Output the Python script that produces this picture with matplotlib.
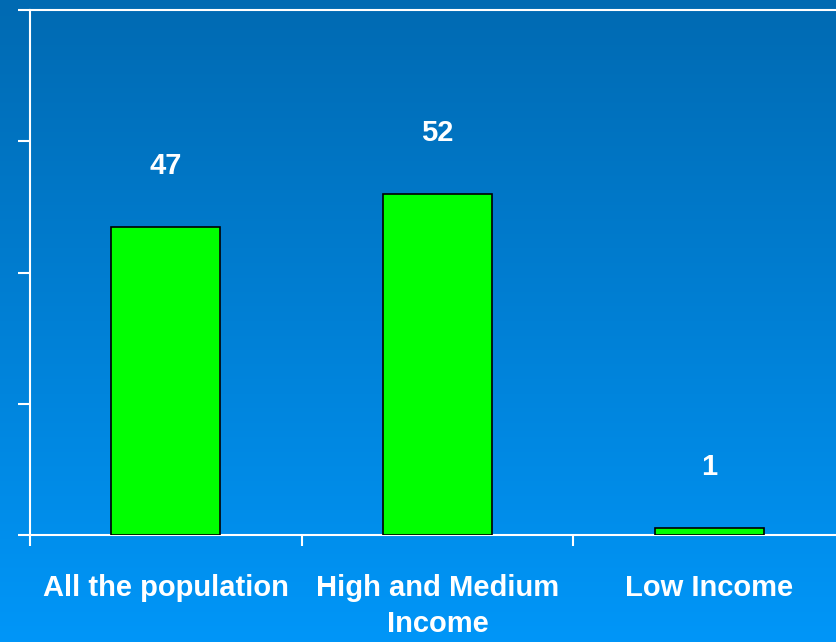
import matplotlib.pyplot as plt
import numpy as np
from matplotlib.colors import LinearSegmentedColormap

categories = ['All the population', 'High and Medium\nIncome', 'Low Income']
values = [47, 52, 1]

plt.rcParams['font.family'] = ['Liberation Sans', 'DejaVu Sans']

fig = plt.figure(figsize=(8.37, 6.42), dpi=100)

# blue gradient background
bg = fig.add_axes([0, 0, 1, 1], zorder=0)
cmap = LinearSegmentedColormap.from_list('bg', ['#006AB2', '#0096F8'])
grad = np.linspace(0, 1, 256).reshape(-1, 1)
bg.imshow(grad, aspect='auto', cmap=cmap, extent=[0, 1, 0, 1], origin='upper')
bg.set_axis_off()

ax = fig.add_axes([30 / 837, 107 / 642, 815 / 837, 525 / 642], zorder=1)
ax.set_facecolor('none')

x = np.arange(len(categories))
ax.bar(x, values, 0.4, color='#00FF00', edgecolor='black', linewidth=1.2, zorder=3)
for xi, v in zip(x, values):
    ax.text(xi, v + 9.3, str(v), ha='center', va='center', color='white',
            fontsize=21, fontweight='bold')

ax.set_xlim(-0.5, 2.5)
ax.set_ylim(0, 80)
ax.set_yticks([0, 20, 40, 60, 80])
ax.set_yticklabels([])
ax.set_xticks([-0.5, 0.5, 1.5, 2.5])
ax.set_xticklabels([])
ax.set_xticks(x, minor=True)
ax.set_xticklabels(categories, minor=True)
ax.tick_params(axis='x', which='minor', length=0, pad=28, labelsize=21,
               labelcolor='white')
ax.tick_params(axis='x', which='major', length=8, width=1.5, color='white')
ax.tick_params(axis='y', length=9, width=1.5, color='white')
for lbl in ax.get_xticklabels(minor=True):
    lbl.set_fontweight('bold')
    lbl.set_verticalalignment('top')
    lbl.set_linespacing(1.35)

for s in ['left', 'bottom', 'top']:
    ax.spines[s].set_color('white')
    ax.spines[s].set_linewidth(1.5)
ax.spines['right'].set_visible(False)

fig.savefig('out.png', dpi=100)
